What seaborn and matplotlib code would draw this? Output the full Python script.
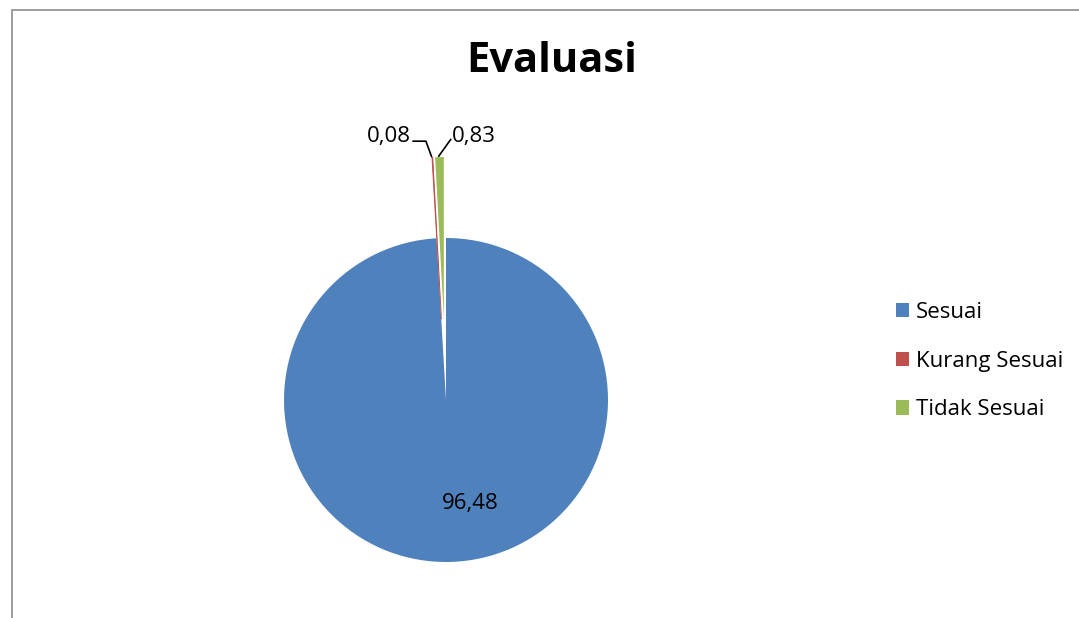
import numpy as np
import matplotlib
matplotlib.use("Agg")
import matplotlib.pyplot as plt
import matplotlib.patches as mpatches
import seaborn as sns

# data
categories = ["Sesuai", "Kurang Sesuai", "Tidak Sesuai"]
values = [96.48, 0.08, 0.83]
value_labels = ["96,48", "0,08", "0,83"]
colors = sns.color_palette(["#4F81BD", "#C0504D", "#9BBB59"])
explode = [0.0, 0.5, 0.5]

sns.set_theme(style="white")
plt.rcParams["font.family"] = ["Open Sans", "DejaVu Sans"]
plt.rcParams["text.color"] = "black"

W, H = 1079, 618
fig = plt.figure(figsize=(W / 100, H / 100), dpi=100)

# pie centre / radius in pixels
cx, cy, R = 446, 400, 162
lim = 1.7
side = 2 * R * lim
ax = fig.add_axes([(cx - side / 2) / W, (H - cy - side / 2) / H, side / W, side / H])
wedges, _ = ax.pie(values, colors=colors, explode=explode, startangle=90,
                   counterclock=False, radius=1.0,
                   wedgeprops=dict(linewidth=0))
# the tiny slice is thinner than a pixel, outline it in its own colour
wedges[1].set_edgecolor(colors[1])
wedges[1].set_linewidth(0.6)
ax.set_xlim(-lim, lim)
ax.set_ylim(-lim, lim)
ax.set_aspect("equal")
ax.axis("off")

# label for big slice
ax.text(0.15, -0.64, value_labels[0], ha="center", va="center", fontsize=16)


def tip(w):
    ang = np.deg2rad((w.theta1 + w.theta2) / 2)
    x0, y0 = w.center
    return x0 + w.r * np.cos(ang), y0 + w.r * np.sin(ang)


# small slices: leader lines + labels
tx, ty = tip(wedges[1])
ax.plot([tx - 0.005, tx - 0.04, tx - 0.12],
        [ty + 0.005, ty + 0.10, ty + 0.10], color="black", lw=1.2)
ax.text(tx - 0.13, ty + 0.13, value_labels[1], ha="right", va="center", fontsize=16)

gx, gy = tip(wedges[2])
ax.plot([gx - 0.005, gx + 0.07], [gy + 0.005, gy + 0.11], color="black", lw=1.2)
ax.text(gx + 0.075, gy + 0.13, value_labels[2], ha="left", va="center", fontsize=16)

# title
fig.text(552 / W, 1 - 62 / H, "Evaluasi", ha="center", va="center",
         fontsize=30, fontweight="bold")

# legend
handles = [mpatches.Patch(facecolor=c, edgecolor="none") for c in colors]
fig.legend(handles, categories, loc="center left",
           bbox_to_anchor=(887 / W, 1 - 361 / H), frameon=False, fontsize=16,
           handlelength=0.6, handleheight=0.6, handletextpad=0.3,
           labelspacing=1.25, borderaxespad=0)

# chart border (top and left visible)
fig.add_artist(mpatches.Rectangle((12 / W, -0.5), 2, 0.5 + 1 - 10 / H,
                                  transform=fig.transFigure, fill=False,
                                  edgecolor="#8c8c8c", lw=1.2))

fig.savefig("out.png", dpi=100)
